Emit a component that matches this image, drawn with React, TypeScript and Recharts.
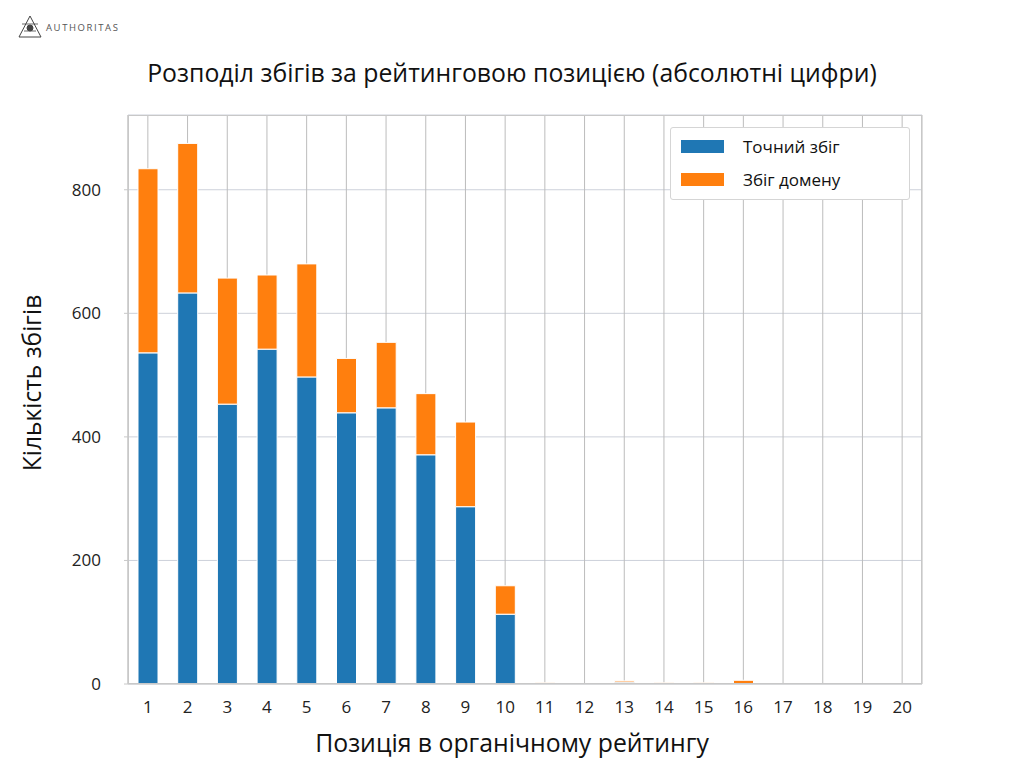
import React from "react";
import { BarChart, Bar, XAxis, YAxis, CartesianGrid } from "recharts";

const positions = ["1","2","3","4","5","6","7","8","9","10","11","12","13","14","15","16","17","18","19","20"];
const exactMatch = [536, 633, 453, 542, 497, 439, 447, 371, 287, 113, 0, 0, 3, 0, 0, 0, 0, 0, 0, 0];
const domainMatch = [298, 242, 204, 120, 183, 88, 106, 99, 137, 46, 2, 0, 2, 2, 2, 6, 0, 0, 0, 0];
const yTicks = [0, 200, 400, 600, 800];

const TITLE = "Розподіл збігів за рейтинговою позицією (абсолютні цифри)";
const X_LABEL = "Позиція в органічному рейтингу";
const Y_LABEL = "Кількість збігів";
const SERIES_NAMES = ["Точний збіг", "Збіг домену"];
const BLUE = "#1f77b4";
const ORANGE = "#ff7f0e";

const data = positions.map((p, i) => ({ pos: p, exact: exactMatch[i], domain: domainMatch[i] }));

const FONT = "'Open Sans', 'Noto Sans', sans-serif";

export default function App() {
  return (
    <div style={{ position: "relative", width: 1024, height: 768, background: "#fff", fontFamily: FONT }}>
      <style>{`body{margin:0;background:#fff}`}</style>
      {/* logo */}
      <svg style={{ position: "absolute", left: 0, top: 0 }} width={200} height={50}>
        <g stroke="#444" strokeWidth={1} fill="none">
          <path d="M30 16 L19 37 M30 16 L41 37 M19 37 L41 37" />
          <circle cx={30} cy={28} r={3} fill="#444" />
          <path d="M22 24 L38 24 M24 31 L36 31" strokeWidth={0.8} />
        </g>
        <text x={46} y={31} fontSize={9.5} letterSpacing={1.6} fill="#555" fontFamily={FONT}>AUTHORITAS</text>
      </svg>
      <div style={{ position: "absolute", left: 0, width: 1024, top: 55, textAlign: "center", fontSize: 24.8, color: "#111" }}>
        {TITLE}
      </div>
      <div style={{ position: "absolute", left: 0, width: 1024, top: 725, textAlign: "center", fontSize: 24.8, color: "#111" }}>
        {X_LABEL}
      </div>
      <div style={{ position: "absolute", left: 31, top: 383, transform: "translate(-50%, -50%) rotate(-90deg)", fontSize: 24.6, color: "#111", whiteSpace: "nowrap" }}>
        {Y_LABEL}
      </div>
      <BarChart
        width={1024}
        height={768}
        data={data}
        margin={{ top: 115, right: 102, left: 68, bottom: 54 }}
        barSize={20}
      >
        <CartesianGrid vertical={false} stroke="#cdd1da" strokeWidth={1} />
        <CartesianGrid horizontal={false} stroke="#bcbcbc" strokeWidth={1} />
        <XAxis
          dataKey="pos"
          type="category"
          padding={{ left: 0, right: 0 }}
          height={30}
          tickLine={false}
          axisLine={{ stroke: "#c8c8c8" }}
          tick={{ fontSize: 17, fill: "#222", fontFamily: FONT }}
          tickMargin={11}
          interval={0}
        />
        <YAxis
          type="number"
          domain={[0, 921]}
          ticks={yTicks}
          width={60}
          tickSize={4}
          tickLine={{ stroke: "#c8c8c8" }}
          axisLine={{ stroke: "#c8c8c8" }}
          tick={{ fontSize: 17, fill: "#222", fontFamily: FONT }}
          tickMargin={23}
          allowDataOverflow
        />
        <Bar dataKey="exact" stackId="a" fill={BLUE} stroke="#fff" strokeWidth={1} isAnimationActive={false} name={SERIES_NAMES[0]} />
        <Bar dataKey="domain" stackId="a" fill={ORANGE} stroke="#fff" strokeWidth={1} isAnimationActive={false} name={SERIES_NAMES[1]} />
      </BarChart>
      {/* plot frame */}
      <div style={{ position: "absolute", left: 128, top: 115, width: 794, height: 569, border: "1px solid #c8c8c8", boxSizing: "border-box", pointerEvents: "none" }} />
      {/* legend */}
      <div style={{ position: "absolute", left: 670, top: 127, width: 240, height: 73, background: "#fff", border: "1px solid #d5d5d5", borderRadius: 3, boxSizing: "border-box" }}>
        {SERIES_NAMES.map((n, i) => (
          <div key={n} style={{ position: "absolute", left: 10, top: 12 + i * 33, display: "flex", alignItems: "center" }}>
            <div style={{ width: 43, height: 13, background: i === 0 ? BLUE : ORANGE }} />
            <div style={{ marginLeft: 19, fontSize: 17, color: "#111", lineHeight: "13px" }}>{n}</div>
          </div>
        ))}
      </div>
    </div>
  );
}
